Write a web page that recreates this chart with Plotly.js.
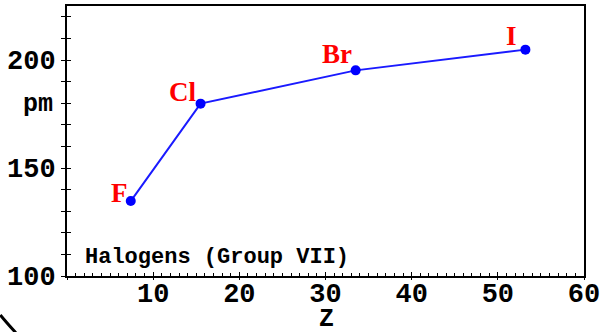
<!DOCTYPE html>
<html>
<head>
<meta charset="utf-8">
<script src="https://cdn.plot.ly/plotly-3.0.1.min.js"></script>
<style>html,body{margin:0;padding:0;background:#fff;}#chart{width:607px;height:332px;}</style>
</head>
<body>
<div id="chart"></div>
<script>
// Data
const elements = ['F', 'Cl', 'Br', 'I'];
const zValues = [7.4, 15.5, 33.5, 53.2];
const radiusPm = [134.7, 179.8, 195.2, 204.8];
const xTickVals = [0, 10, 20, 30, 40, 50, 60];
const xTickText = ['', '10', '20', '30', '40', '50', '60'];
const yTickVals = [100, 110, 120, 130, 140, 150, 160, 170, 180, 190, 200, 210, 220];
const yTickText = ['100', '', '', '', '', '150', '', '', '', '', '200', '', ''];
const yUnitLabel = 'pm';
const yUnitAt = 180;
const xTitle = 'Z';
const chartNote = 'Halogens (Group VII)';

const mono = 'Liberation Mono, DejaVu Sans Mono, monospace';
const labelShift = [[-1, -9], [-3, -5], [-2, -1], [-6, -3]];

const trace = {
  x: zValues, y: radiusPm, type: 'scatter', mode: 'lines+markers',
  line: {color: '#1a1aff', width: 2},
  marker: {color: '#0000ff', size: 10},
  hoverinfo: 'none', showlegend: false
};
const ghost = {x: [0], y: [100], xaxis: 'x2', yaxis: 'y2', type: 'scatter', mode: 'markers',
  marker: {opacity: 0}, showlegend: false, hoverinfo: 'none'};

const annotations = elements.map((el, i) => ({
  x: zValues[i], y: radiusPm[i], xref: 'x', yref: 'y', text: el, showarrow: false,
  xanchor: 'right', yanchor: 'bottom', xshift: labelShift[i][0], yshift: labelShift[i][1],
  font: {family: 'Liberation Serif, DejaVu Serif, serif', size: 27, color: '#ff0000', weight: 'bold'}
}));
annotations.push({
  x: 0, y: yUnitAt, xref: 'paper', yref: 'y', text: yUnitLabel, showarrow: false,
  xanchor: 'right', yanchor: 'middle', xshift: -12, yshift: -1,
  font: {family: mono, size: 25, color: '#000', weight: 'bold'}
});
annotations.push({
  x: 0.03, y: 0.07, xref: 'paper', yref: 'paper', text: chartNote, showarrow: false,
  xanchor: 'left', yanchor: 'middle',
  font: {family: mono, size: 22, color: '#000', weight: 'bold'}
});
annotations.push({
  x: 0.5, y: 0, xref: 'paper', yref: 'paper', text: xTitle, showarrow: false,
  xanchor: 'center', yanchor: 'top', xshift: 1, yshift: -28, borderpad: 0,
  font: {family: mono, size: 25, color: '#000', weight: 'bold'}
});

const layout = {
  width: 607, height: 332,
  margin: {l: 67, r: 23, t: 6, b: 56},
  paper_bgcolor: '#fff', plot_bgcolor: '#fff',
  xaxis: {
    range: [0, 60], tickvals: xTickVals, ticktext: xTickText,
    ticks: 'inside', ticklen: 4, tickwidth: 1, tickcolor: '#000',
    ticklabelstandoff: -8,
    minor: {dtick: 1, tick0: 0, ticks: 'inside', ticklen: 3, tickcolor: '#000', tickwidth: 1},
    showgrid: false, zeroline: false, showline: true, mirror: true, linecolor: '#000', linewidth: 2,
    tickfont: {family: mono, size: 27, color: '#000', weight: 'bold'},
    fixedrange: true
  },
  yaxis: {
    range: [100, 225], tickvals: yTickVals, ticktext: yTickText,
    ticks: 'outside', ticklen: 4, tickwidth: 1, tickcolor: '#000',
    showgrid: false, zeroline: false, showline: true, mirror: true, linecolor: '#000', linewidth: 2,
    tickfont: {family: mono, size: 27, color: '#000', weight: 'bold'},
    fixedrange: true
  },
  xaxis2: {range: [0, 60], overlaying: 'x', side: 'bottom', anchor: 'y', tickvals: xTickVals, ticks: 'outside', ticklen: 3,
    tickcolor: '#000', showticklabels: false, showgrid: false, zeroline: false, showline: false},
  yaxis2: {range: [100, 225], overlaying: 'y', tickvals: yTickVals, ticks: 'inside', ticklen: 4,
    tickcolor: '#000', showticklabels: false, showgrid: false, zeroline: false, showline: false},
  annotations: annotations,
  shapes: [{
    type: 'path', xref: 'paper', yref: 'paper',
    path: 'M -0.129 -0.144 Q -0.118 -0.17 -0.099 -0.21',
    line: {color: '#000', width: 3}
  }]
};

Plotly.newPlot('chart', [trace, ghost], layout, {displayModeBar: false, staticPlot: true});
</script>
</body>
</html>
